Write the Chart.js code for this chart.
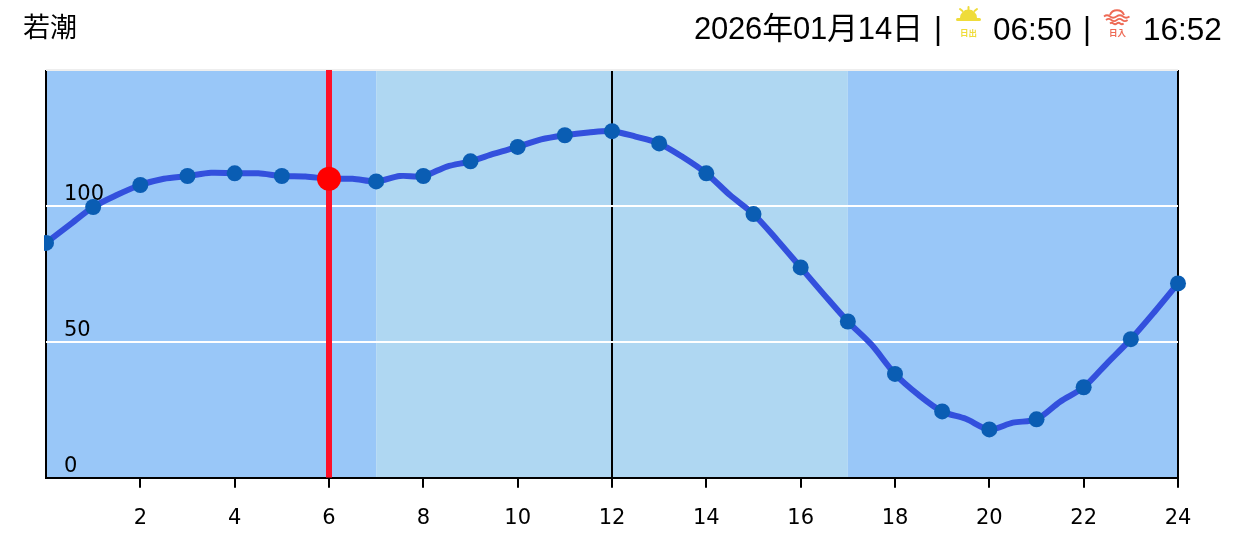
<!DOCTYPE html>
<html lang="ja">
<head>
<meta charset="utf-8">
<title>若潮</title>
<script src="https://cdn.jsdelivr.net/npm/chart.js@4"></script>
<style>
html,body{margin:0;padding:0;background:#fff;width:1244px;height:549px;overflow:hidden}
#chart{position:absolute;left:0;top:0}
.t{position:absolute;color:#000;font-family:"Liberation Sans","Noto Sans CJK JP",sans-serif;white-space:nowrap;line-height:32px}
svg{position:absolute;overflow:visible}
</style>
</head>
<body>
<canvas id="chart" width="1244" height="549"></canvas>
<div class="t" style="left:23px;top:12px;font-size:27px">若潮</div>
<div class="t" style="left:694px;top:13px;font-size:31px;letter-spacing:-0.2px">2026年01月14日</div>
<div class="t" style="left:934px;top:13px;font-size:31px">|</div>
<svg style="left:955px;top:6px" width="28" height="32" viewBox="0 0 28 32">
  <path d="M5 12a8.500 8.500 0 0 1 17 0z" fill="#efdc3a"/>
  <rect x="1" y="12" width="25" height="3" rx="1.500" fill="#efdc3a"/>
  <path d="M13.500 1v2.500M5 3l2.500 2M22 3l-2.500 2" stroke="#efdc3a" stroke-width="2" stroke-linecap="round"/>
  <text x="13.500" y="30" text-anchor="middle" font-size="8.500" font-weight="700" fill="#efdc3a" font-family="Noto Sans CJK JP">日出</text>
</svg>
<div class="t" style="left:993px;top:13px;font-size:31.500px">06:50</div>
<div class="t" style="left:1083px;top:13px;font-size:31px">|</div>
<svg style="left:1103px;top:6px" width="28" height="32" viewBox="0 0 28 32">
  <path d="M7 9a7.500 7.500 0 0 1 14 0" fill="none" stroke="#ee6a55" stroke-width="2"/>
  <path d="M1 10.500q3-2.500 6 0t6.500 0t6.500 0t6.500 0M3 14q2.700-2.200 5.400 0t5.400 0t5.400 0t5.400 0M7 17.500q1.700-1.500 3.400 0t3.400 0t3.400 0t3.400 0" fill="none" stroke="#ee6a55" stroke-width="1.800"/>
  <text x="14.500" y="30" text-anchor="middle" font-size="8.500" font-weight="700" fill="#ee6a55" font-family="Noto Sans CJK JP">日入</text>
</svg>
<div class="t" style="left:1143px;top:13px;font-size:31.500px">16:52</div>
<script>
const hours = [0,1,2,3,4,5,6,7,8,9,10,11,12,13,14,15,16,17,18,19,20,21,22,23,24];
const hourTides = [86.4,99.6,107.7,111,112,111,110,109,111,116.4,121.7,126,127.5,123,112,97,77.4,57.5,38.2,24.4,17.8,21.5,33.3,51,71.5];
const midHours = [0.5,1.5,2.5,3.5,4.5,5.5,6.5,7.5,8.5,9.5,10.5,11.5,12.5,13.5,14.5,15.5,16.5,17.5,18.5,19.5,20.5,21.5,22.5,23.5];
const midTides = [93,104,110,112.2,112,110.8,110,111,114.5,119.2,124.5,127,125.5,118,104,87.5,67.3,49,30.5,21.7,20.3,28,42.2,61];
const nowHour = 6;
const nowTide = 110;
const bandStarts = [0,7,17];
const bandEnds = [7,17,24];
const bandColors = ['#99c7f8','#afd7f2','#99c7f8'];
const blackHours = [0,12,24];

const linePoints = [];
hours.forEach((h,i)=>{
  linePoints.push({x:h,y:hourTides[i]});
  if(i<midHours.length) linePoints.push({x:midHours[i],y:midTides[i]});
});
const dotPoints = hours.map((h,i)=>({x:h,y:hourTides[i]}));

const bandsPlugin = {
  id:'bands',
  beforeDraw(c){
    const {ctx,chartArea:a,scales:{x}} = c;
    ctx.save();
    bandStarts.forEach((s,i)=>{
      const l=x.getPixelForValue(s), r=x.getPixelForValue(bandEnds[i]);
      ctx.fillStyle=bandColors[i];
      ctx.fillRect(l,a.top,r-l,a.bottom-a.top);
    });
    ctx.restore();
  }
};

new Chart(document.getElementById('chart'),{
  type:'line',
  data:{datasets:[
    {data:linePoints,borderColor:'#3350dd',borderWidth:6,tension:0.3,pointRadius:0,order:3,clip:{left:2,right:10,top:10,bottom:10}},
    {data:dotPoints,showLine:false,pointRadius:8,pointHoverRadius:8,pointBackgroundColor:'#0a5db3',pointBorderWidth:0,order:2,clip:{left:2,right:10,top:10,bottom:10}},
    {data:[{x:nowHour,y:0},{x:nowHour,y:150}],borderColor:'#ff1028',borderWidth:6,pointRadius:0,tension:0,order:1},
    {data:[{x:nowHour,y:nowTide}],showLine:false,pointRadius:12,pointHoverRadius:12,pointBackgroundColor:'#ff0000',pointBorderWidth:0,order:0,clip:false}
  ]},
  options:{
    responsive:false,animation:false,
    layout:{padding:{left:10,right:66,top:70,bottom:0}},
    plugins:{legend:{display:false},tooltip:{enabled:false},title:{display:false}},
    scales:{
      x:{type:'linear',min:0,max:24,
        border:{display:true,color:'#000',width:2},
        grid:{lineWidth:2,tickLength:10,
          color:c=>blackHours.includes(c.tick.value)?'#000':'rgba(0,0,0,0)',
          tickColor:c=>c.tick.value===0?'rgba(0,0,0,0)':'#000'},
        ticks:{stepSize:2,autoSkip:false,maxRotation:0,padding:18,color:'#000',
          font:{family:'"DejaVu Sans"',size:21},
          callback:v=>v===0?'':String(v)}
      },
      y:{type:'linear',min:0,max:150,
        border:{display:false},
        grid:{lineWidth:2,drawTicks:false,
          color:c=>c.tick.value===150?'#eeeeee':(c.tick.value===0?'rgba(0,0,0,0)':'#ffffff')},
        ticks:{stepSize:50,mirror:true,padding:18,labelOffset:-11,color:'#000',
          font:{family:'"DejaVu Sans"',size:21},
          callback:v=>v===150?'':String(v)}
      }
    }
  },
  plugins:[bandsPlugin]
});
</script>
</body>
</html>
